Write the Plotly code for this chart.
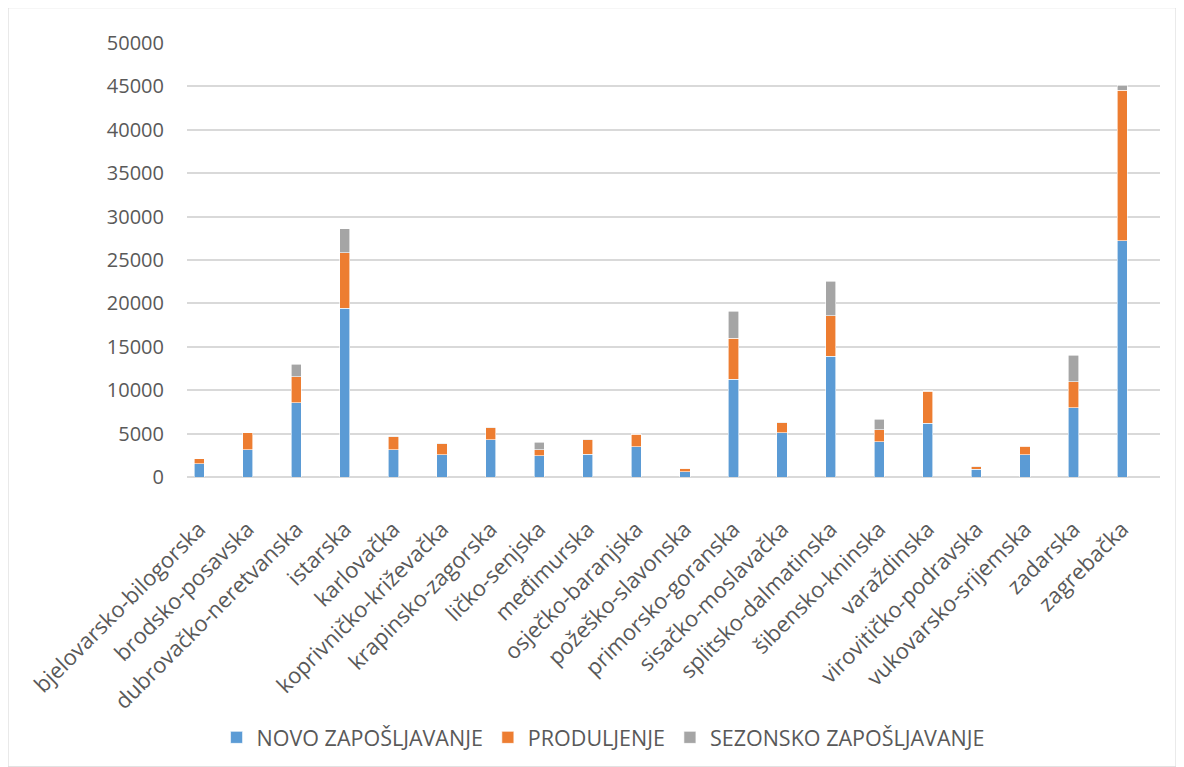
import plotly.graph_objects as go

counties = ["bjelovarsko-bilogorska", "brodsko-posavska", "dubrovačko-neretvanska", "istarska",
            "karlovačka", "koprivničko-križevačka", "krapinsko-zagorska", "ličko-senjska",
            "međimurska", "osječko-baranjska", "požeško-slavonska", "primorsko-goranska",
            "sisačko-moslavačka", "splitsko-dalmatinska", "šibensko-kninska", "varaždinska",
            "virovitičko-podravska", "vukovarsko-srijemska", "zadarska", "zagrebačka"]

novo = [1540, 3160, 8580, 19430, 3160, 2580, 4310, 2470, 2620, 3490,
        620, 11250, 5110, 13940, 4080, 6190, 920, 2580, 8000, 27230]
produljenje = [540, 1920, 2960, 6380, 1460, 1270, 1390, 690, 1690, 1460,
               380, 4760, 1160, 4660, 1340, 3680, 280, 960, 3000, 17350]
sezonsko = [0, 30, 1460, 2810, 50, 40, 50, 840, 30, 40,
            30, 3110, 50, 3950, 1230, 40, 20, 40, 3040, 580]

series_names = ["NOVO ZAPOŠLJAVANJE", "PRODULJENJE", "SEZONSKO ZAPOŠLJAVANJE"]
colors = ["#5B9BD5", "#ED7D31", "#A5A5A5"]
y_ticks = [0, 5000, 10000, 15000, 20000, 25000, 30000, 35000, 40000, 45000, 50000]

fig = go.Figure()
for name, vals, col in zip(series_names, [novo, produljenje, sezonsko], colors):
    fig.add_trace(go.Bar(x=counties, y=vals, name=name,
                         marker=dict(color=col, line=dict(color="white", width=0.6))))

font_main = "Open Sans, Noto Sans, sans-serif"
fig.update_layout(
    barmode="stack",
    bargap=0.79,
    width=1176, height=759,
    margin=dict(l=179, r=24, t=35, b=290, autoexpand=False),
    paper_bgcolor="white", plot_bgcolor="white",
    font=dict(family=font_main, color="#595959", size=20),
    showlegend=True,
    legend=dict(orientation="h", xref="container", yref="container",
                x=0.506, xanchor="center", y=0.039, yanchor="middle",
                font=dict(size=21.5, color="#595959", family=font_main),
                traceorder="normal", itemwidth=30),
    xaxis=dict(type="category", range=[-0.25, 19.78], tickangle=-45, automargin=False,
               tickfont=dict(size=22, color="#595959"), showgrid=False,
               showline=False, ticks="", ticklabelstandoff=34),
    yaxis=dict(range=[0, 50000], tickvals=y_ticks, tickformat="d", automargin=False,
               showgrid=True, gridcolor="#D9D9D9", gridwidth=1.5,
               zeroline=True, zerolinecolor="#D9D9D9", zerolinewidth=1.5,
               tickfont=dict(size=20, color="#595959"), ticks="", ticklabelstandoff=22),
    shapes=[dict(type="rect", xref="paper", yref="paper",
                 x0=-0.184, x1=1.0165, y0=-0.668, y1=1.0815,
                 line=dict(color="#D9D9D9", width=1.2), fillcolor="rgba(0,0,0,0)", layer="below")],
)

fig.write_html("out.html")
